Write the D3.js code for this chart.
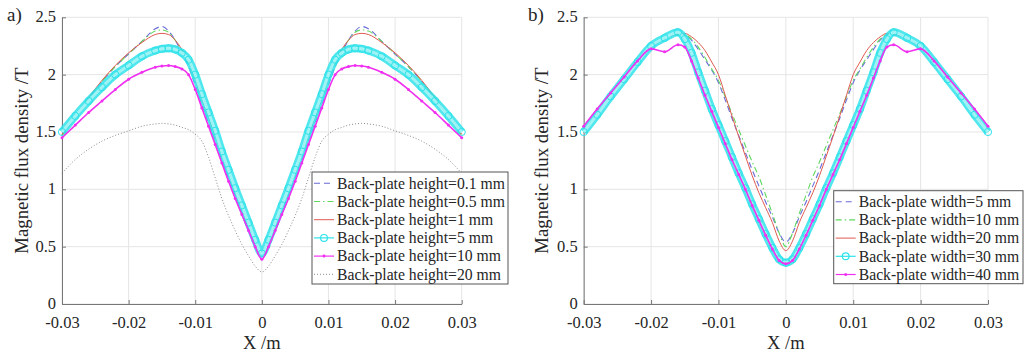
<!DOCTYPE html>
<html>
<head>
<meta charset="utf-8">
<script src="https://cdn.jsdelivr.net/npm/d3@7"></script>
<style>
body { margin: 0; background: #fff; }
text { font-family: "Liberation Serif", "Times New Roman", serif; fill: #262626; }
</style>
</head>
<body>
<svg id="chart" width="1024" height="360"></svg>
<script>
// shared x positions (m)
const xPos = [-0.03,-0.028,-0.026,-0.024,-0.022,-0.02,-0.018,-0.016,-0.015,-0.014,-0.013,-0.012,-0.011,-0.01,-0.009,-0.008,-0.007,-0.006,-0.005,-0.004,-0.003,-0.002,-0.001,0,
  0.001,0.002,0.003,0.004,0.005,0.006,0.007,0.008,0.009,0.01,0.011,0.012,0.013,0.014,0.015,0.016,0.018,0.02,0.022,0.024,0.026,0.028,0.03];

const xTicks = [-0.03, -0.02, -0.01, 0, 0.01, 0.02, 0.03];
const yTicks = [0, 0.5, 1, 1.5, 2, 2.5];

// panel a) back-plate height
const heightLabels = ["Back-plate height=0.1 mm", "Back-plate height=0.5 mm", "Back-plate height=1 mm",
  "Back-plate height=5 mm", "Back-plate height=10 mm", "Back-plate height=20 mm"];
const h01 = [1.47,1.63,1.79,1.94,2.07,2.18,2.29,2.40,2.42,2.38,2.30,2.19,2.07,1.91,1.74,1.58,1.42,1.26,1.10,0.95,0.80,0.66,0.53,0.45,
  0.53,0.66,0.80,0.95,1.10,1.26,1.42,1.58,1.74,1.91,2.07,2.19,2.30,2.38,2.42,2.40,2.29,2.18,2.07,1.94,1.79,1.63,1.47];
const h05 = [1.47,1.63,1.79,1.94,2.07,2.18,2.29,2.38,2.39,2.37,2.30,2.21,2.10,1.95,1.79,1.63,1.47,1.31,1.15,0.99,0.84,0.69,0.55,0.45,
  0.55,0.69,0.84,0.99,1.15,1.31,1.47,1.63,1.79,1.95,2.10,2.21,2.30,2.37,2.39,2.38,2.29,2.18,2.07,1.94,1.79,1.63,1.47];
const h1 = [1.48,1.64,1.80,1.95,2.08,2.19,2.28,2.35,2.36,2.35,2.30,2.22,2.12,1.97,1.80,1.63,1.47,1.31,1.15,0.99,0.84,0.69,0.55,0.45,
  0.55,0.69,0.84,0.99,1.15,1.31,1.47,1.63,1.80,1.97,2.12,2.22,2.30,2.35,2.36,2.35,2.28,2.19,2.08,1.95,1.80,1.64,1.48];
const h5 = [1.50,1.64,1.77,1.89,2.00,2.08,2.16,2.21,2.225,2.23,2.22,2.19,2.13,2.00,1.83,1.67,1.51,1.33,1.17,1.01,0.86,0.71,0.56,0.44,
  0.56,0.71,0.86,1.01,1.17,1.33,1.51,1.67,1.83,2.00,2.13,2.19,2.22,2.23,2.225,2.21,2.16,2.08,2.00,1.89,1.77,1.64,1.50];
const h10 = [1.45,1.56,1.67,1.77,1.87,1.96,2.02,2.065,2.075,2.08,2.07,2.05,2.00,1.87,1.71,1.55,1.39,1.23,1.07,0.92,0.78,0.64,0.50,0.39,
  0.50,0.64,0.78,0.92,1.07,1.23,1.39,1.55,1.71,1.87,2.00,2.05,2.07,2.08,2.075,2.065,2.02,1.96,1.87,1.77,1.67,1.56,1.45];
const h20 = [1.14,1.26,1.35,1.42,1.47,1.51,1.55,1.57,1.575,1.57,1.56,1.54,1.52,1.48,1.42,1.28,1.10,0.92,0.77,0.64,0.52,0.42,0.33,0.28,
  0.33,0.42,0.52,0.64,0.77,0.92,1.10,1.28,1.42,1.48,1.52,1.54,1.56,1.57,1.575,1.57,1.55,1.51,1.47,1.42,1.35,1.26,1.14];

// panel b) back-plate width
const widthLabels = ["Back-plate width=5 mm", "Back-plate width=10 mm", "Back-plate width=20 mm",
  "Back-plate width=30 mm", "Back-plate width=40 mm"];
const w5 = [1.50,1.65,1.81,1.96,2.11,2.24,2.31,2.355,2.35,2.30,2.22,2.13,2.04,1.93,1.78,1.62,1.47,1.32,1.17,1.03,0.89,0.76,0.62,0.54,
  0.62,0.76,0.89,1.03,1.17,1.32,1.47,1.62,1.78,1.93,2.04,2.13,2.22,2.30,2.35,2.355,2.31,2.24,2.11,1.96,1.81,1.65,1.50];
const w10 = [1.50,1.65,1.81,1.96,2.11,2.24,2.31,2.355,2.35,2.31,2.24,2.15,2.05,1.95,1.81,1.66,1.52,1.38,1.24,1.11,0.95,0.79,0.62,0.50,
  0.62,0.79,0.95,1.11,1.24,1.38,1.52,1.66,1.81,1.95,2.05,2.15,2.24,2.31,2.35,2.355,2.31,2.24,2.11,1.96,1.81,1.65,1.50];
const w20 = [1.50,1.65,1.81,1.96,2.11,2.24,2.31,2.355,2.36,2.33,2.28,2.21,2.11,2.00,1.82,1.64,1.46,1.29,1.12,0.97,0.84,0.71,0.55,0.465,
  0.55,0.71,0.84,0.97,1.12,1.29,1.46,1.64,1.82,2.00,2.11,2.21,2.28,2.33,2.36,2.355,2.31,2.24,2.11,1.96,1.81,1.65,1.50];
const w30 = [1.50,1.65,1.81,1.96,2.11,2.25,2.32,2.37,2.31,2.19,2.02,1.86,1.70,1.56,1.42,1.28,1.14,1.01,0.87,0.74,0.61,0.49,0.39,0.36,
  0.39,0.49,0.61,0.74,0.87,1.01,1.14,1.28,1.42,1.56,1.70,1.86,2.02,2.19,2.31,2.37,2.32,2.25,2.11,1.96,1.81,1.65,1.50];
const w40 = [1.55,1.70,1.84,1.98,2.12,2.225,2.20,2.26,2.24,2.12,1.97,1.82,1.68,1.54,1.40,1.26,1.13,1.00,0.86,0.73,0.60,0.48,0.38,0.35,
  0.38,0.48,0.60,0.73,0.86,1.00,1.13,1.26,1.40,1.54,1.68,1.82,1.97,2.12,2.24,2.26,2.20,2.225,2.12,1.98,1.84,1.70,1.55];

// line styles, same order in both panels
const dashedStyle = { color: "#6a6ad8", width: 1.1, dash: "6,4" };
const dashDotStyle = { color: "#5fd85f", width: 1.1, dash: "6,3,1.5,3" };
const solidStyle = { color: "#e05a50", width: 1, dash: null };
const circleStyle = { color: "#2ee3ea", width: 1.2, dash: null, marker: "circle" };
const dotStyle = { color: "#f030f0", width: 1.6, dash: null, marker: "dot" };
const dottedStyle = { color: "#8a8a8a", width: 1, dash: "1,2" };

const svg = d3.select("#chart");

function drawPanel(p) {
  const x = d3.scaleLinear().domain([-0.03, 0.03]).range([p.left, p.right]);
  const y = d3.scaleLinear().domain([0, 2.5]).range([p.bottom, p.top]);
  const g = svg.append("g");
  const fmt = d => d === 0 ? "0" : String(d);

  // grid
  g.append("g").selectAll("line").data(xTicks).join("line")
    .attr("x1", d => x(d)).attr("x2", d => x(d))
    .attr("y1", p.top).attr("y2", p.bottom)
    .attr("stroke", "#e5e5e5");
  g.append("g").selectAll("line").data(yTicks).join("line")
    .attr("y1", d => y(d)).attr("y2", d => y(d))
    .attr("x1", p.left).attr("x2", p.right)
    .attr("stroke", "#e5e5e5");

  // axes, inward ticks like matlab
  const xAxis = g.append("g").attr("transform", `translate(0,${p.bottom})`)
    .call(d3.axisBottom(x).tickValues(xTicks).tickFormat(fmt).tickSizeInner(-4).tickSizeOuter(0).tickPadding(12));
  const yAxis = g.append("g").attr("transform", `translate(${p.left},0)`)
    .call(d3.axisLeft(y).tickValues(yTicks).tickFormat(fmt).tickSizeInner(-4).tickSizeOuter(0).tickPadding(6));
  [xAxis, yAxis].forEach(a => {
    a.attr("font-family", null);
    a.select(".domain").attr("stroke", "#777");
    a.selectAll(".tick line").attr("stroke", "#777");
    a.selectAll("text").attr("font-size", 16.5).attr("fill", "#262626");
  });
  yAxis.selectAll("text").attr("dy", "0.28em");

  g.append("text").attr("x", (p.left + p.right) / 2).attr("y", 349)
    .attr("text-anchor", "middle").attr("font-size", 18.5).text("X /m");
  g.append("text").attr("transform", `translate(${p.ylabelX},${(p.top + p.bottom) / 2}) rotate(-90)`)
    .attr("text-anchor", "middle").attr("font-size", 18.8).text("Magnetic flux density /T");
  g.append("text").attr("x", p.tagX).attr("y", 21).attr("font-size", 19).text(p.tag);

  const line = d3.line().x((d, i) => x(xPos[i])).y(d => y(d)).curve(d3.curveMonotoneX);

  p.series.forEach((s, i) => {
    const st = p.styles[i];
    if (st.marker === "circle") {
      g.append("path").attr("d", line(s)).attr("fill", "none")
        .attr("stroke", st.color).attr("stroke-width", 8).attr("stroke-linejoin", "round").attr("opacity", 0.85);
      g.append("path").attr("d", line(s)).attr("fill", "none")
        .attr("stroke", "#9ff3f5").attr("stroke-width", 3);
      g.append("g").selectAll("circle").data(s).join("circle")
        .attr("cx", (d, k) => x(xPos[k])).attr("cy", d => y(d)).attr("r", 3.6)
        .attr("fill", "none").attr("stroke", st.color).attr("stroke-width", 1);
    } else {
      g.append("path").attr("d", line(s)).attr("fill", "none")
        .attr("stroke", st.color).attr("stroke-width", st.width)
        .attr("stroke-dasharray", st.dash);
      if (st.marker === "dot") {
        g.append("g").selectAll("circle").data(s).join("circle")
          .attr("cx", (d, k) => x(xPos[k])).attr("cy", d => y(d)).attr("r", 1.5)
          .attr("fill", st.color);
      }
    }
  });

  // legend
  const lg = g.append("g").attr("transform", `translate(${p.legend.x},${p.legend.y})`);
  lg.append("rect").attr("width", p.legend.w).attr("height", p.legend.h)
    .attr("fill", "#fff").attr("stroke", "#555");
  p.labels.forEach((lab, i) => {
    const st = p.styles[i];
    const cy = p.legend.first + i * p.legend.step;
    lg.append("line").attr("x1", 2).attr("x2", 22).attr("y1", cy).attr("y2", cy)
      .attr("stroke", st.color).attr("stroke-width", st.marker ? 1.2 : st.width)
      .attr("stroke-dasharray", st.dash);
    if (st.marker === "circle") {
      lg.append("circle").attr("cx", 12).attr("cy", cy).attr("r", 3.4)
        .attr("fill", "none").attr("stroke", st.color).attr("stroke-width", 1.2);
    } else if (st.marker === "dot") {
      lg.append("circle").attr("cx", 12).attr("cy", cy).attr("r", 1.5).attr("fill", st.color);
    }
    lg.append("text").attr("x", 25).attr("y", cy + 5.3).attr("font-size", 15.7).text(lab);
  });
}

drawPanel({
  left: 62, right: 461.7, top: 17.3, bottom: 304,
  ylabelX: 28, tag: "a)", tagX: 7,
  series: [h01, h05, h1, h5, h10, h20],
  styles: [dashedStyle, dashDotStyle, solidStyle, circleStyle, dotStyle, dottedStyle],
  labels: heightLabels,
  legend: { x: 312, y: 172, w: 196, h: 112, first: 11.3, step: 18.2 }
});

drawPanel({
  left: 583.7, right: 988, top: 17.3, bottom: 304,
  ylabelX: 548, tag: "b)", tagX: 528,
  series: [w5, w10, w20, w30, w40],
  styles: [dashedStyle, dashDotStyle, solidStyle, circleStyle, dotStyle],
  labels: widthLabels,
  legend: { x: 833.7, y: 190.7, w: 189.3, h: 93, first: 11, step: 18.2 }
});
</script>
</body>
</html>
